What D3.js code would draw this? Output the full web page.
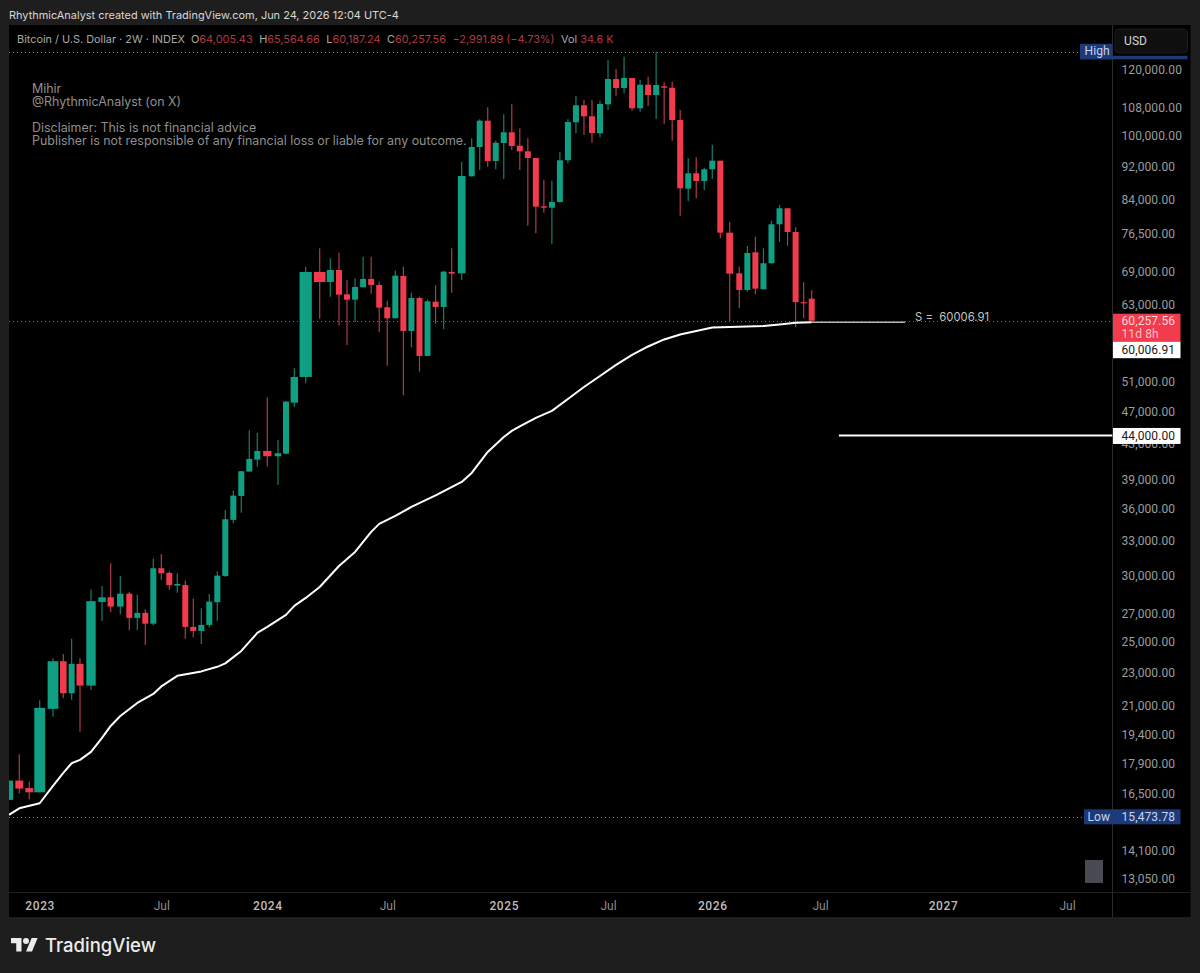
<!DOCTYPE html>
<html><head><meta charset="utf-8"><title>Bitcoin / U.S. Dollar 2W</title>
<script src="https://cdn.jsdelivr.net/npm/d3@7"></script>
<style>
html,body{margin:0;padding:0;background:#1e1e1e}
svg{display:block}
text{font-family:Inter,Roboto,sans-serif}
.axis text{font-family:Roboto,sans-serif}
</style></head><body><div id="chart"></div>
<script>
// Two-week BTC/USD candles, oldest first
const barOpen = [16210,17090,16740,16550,20800,23700,21710,23530,22170,27880,
28240,27530,28520,26690,27060,26270,30580,30190,29160,29210,
26040,25750,26180,27860,29940,34910,37280,39850,41180,42170,
41560,41860,48140,51650,68870,67000,69240,64780,63830,66040,
67560,66460,62520,60660,68110,58590,64130,54710,63480,62570,
68870,68620,89510,96990,104240,93340,98060,100980,97340,95850,
94110,82450,82130,83420,93520,103780,108730,105500,100700,109030,
116850,114010,117170,107840,115040,111840,114540,114100,104440,86520,
90250,88360,91240,93420,76690,68620,65550,72680,65680,70530,
78480,82000,76840,63400,64005.43];
const barHigh = [17090,18370,17040,21300,23900,24180,25200,23900,28840,29130,
31000,29940,28680,28450,27330,31400,31800,30330,30160,29560,
28140,27410,28500,30300,35880,37830,39890,44630,44300,48860,
43460,48360,52900,69870,73480,71500,72600,67370,67690,71810,
71810,67060,63660,69110,69870,65070,64360,63830,66400,69110,
73480,93160,99330,104640,108140,98680,106080,109120,102090,99330,
94110,88610,88440,95670,104640,111540,110320,110320,110110,123100,
120100,124210,117170,116530,117590,125890,115800,115990,107340,94030,
94290,91640,97600,93420,79040,69870,73950,75860,73480,79260,
82740,82000,77840,67000,65564.66];
const barLow = [16210,16510,16240,16550,20360,21420,21320,19530,21910,26470,
27130,26960,25800,25800,24780,26160,29620,28820,28600,25200,
25290,24850,26020,26470,29860,34590,35610,39850,40400,40400,
38420,41790,47610,50770,60590,64360,59510,56380,60100,66040,
64890,58380,53270,60660,49160,56030,52400,54710,59770,58860,
65070,67370,89410,91070,91890,91240,88850,96200,91070,78180,
76570,81010,74360,83260,92750,100700,100230,98140,99600,107340,
111630,112360,107130,106840,108520,104720,103300,98680,80350,83650,
84270,86210,88920,75530,60210,62450,65250,64780,65680,70450,
74830,74010,59180,60660,60187.24];
const barClose = [17090,16720,16550,20860,23700,21710,23530,22170,27940,28240,
27530,28520,26690,27060,26270,30580,30160,29190,29290,26040,
25750,26180,27910,29970,34970,37310,39890,41260,42170,41560,
41910,48270,51650,68870,67000,69240,64710,63830,66090,67560,
66460,62450,60660,68170,58590,64130,54710,63550,62570,68920,
68550,89580,96990,104240,93340,98140,100980,97260,95850,94110,
82360,82130,83420,93520,103870,108730,105500,100780,109120,116850,
114010,117170,107840,115040,111840,114950,114100,104440,86610,90250,
88360,91240,93420,76690,68550,65550,72540,65790,70530,78480,
82000,76840,63400,63249.45,60257.56];

// Long moving average, sampled at these bars
const maBars = [0,1,3,4,5,6,7,8,9,10,11,13,15,16,18,21,23,24,26,27,28,29,31,32,33,34,36,38,40,41,43,45,48,51,52,54,56,57,58,60,62,64,66,68,70,72,74,76,78,80,82,84,88,90,92,94];
const maValues = [15560,15840,16060,16840,17450,17920,18090,18490,19210,19850,20400,21140,
21670,22120,22770,23050,23340,23560,24380,24990,25610,26040,26910,27580,28190,29050,30770,31980,
33780,34530,35290,36170,37330,38740,39700,42060,43820,44550,45100,46160,47060,48630,50250,51790,
53380,54860,56150,57240,58030,58590,59150,59230,59390,59640,59930,60006.91];

const priceTicks = [120000,108000,100000,92000,84000,76500,69000,63000,51000,47000,43000,39000,36000,33000,30000,27000,25000,23000,21000,19400,17900,16500,14100,13050];
const timeTickBars = [3,16,29,42,56,69,82,95,108,121];
const timeTickLabels = ["2023","Jul","2024","Jul","2025","Jul","2026","Jul","2027","Jul"];
const yearLabels = new Set(["2023","2024","2025","2026","2027"]);

const seriesHigh = 125890, seriesLow = 15473.78;
const lastClose = 60257.56, supportLevel = 60006.91, targetLevel = 44000;

const W = 1200, H = 973;
const plot = {left: 9, right: 1112.5, top: 25, bottom: 892, outerRight: 1190.5, outerBottom: 917};
const UP = "#0f9f83", DOWN = "#f23b4c", UP_WICK = "#12806c", DOWN_WICK = "#b23a48";
const BLUE = "#1c3a78";

const svg = d3.select("#chart").append("svg").attr("width", W).attr("height", H);
svg.append("rect").attr("width", W).attr("height", H).attr("fill", "#1e1e1e");
svg.append("rect").attr("x", plot.left).attr("y", plot.top)
  .attr("width", plot.outerRight - plot.left).attr("height", plot.outerBottom - plot.top).attr("fill", "#000");

// Log price scale; time scale runs on bar numbers with a non-uniform pitch
const y = d3.scaleLog().domain([120000, 13050]).range([69.3, 879]);
const x = d3.scaleLinear()
  .domain([0,1,2,3,4,5,7,8,9,10,11,12,13,28,29,30,31,32,33,34,35,36,37,50,51,52,53,83,84,85,94,95,108,121])
  .range([9,19.3,29.3,39.7,53,63.3,80,91,102,110.7,120.3,129.3,137.3,257.3,267.3,278,286,294.3,305.7,319.7,330.3,339,347,451.7,461.7,471.7,479.7,720.3,729.7,739.3,811.7,820,943,1067]);
const snap = v => Math.round(v) + .5;

const bodyWidth = i => {
  const pitch = (x(i + 1) - x(i - 1)) / 2;
  return 6 + Math.max(0, pitch - 9) * 1.7;
};

// Panel separators
svg.append("line").attr("x1", plot.right).attr("x2", plot.right).attr("y1", plot.top).attr("y2", plot.outerBottom).attr("stroke", "#2a2a2a");
svg.append("line").attr("x1", plot.left).attr("x2", plot.outerRight).attr("y1", plot.bottom + .5).attr("y2", plot.bottom + .5).attr("stroke", "#222");

svg.append("clipPath").attr("id", "plotClip").append("rect")
  .attr("x", plot.left).attr("y", plot.top).attr("width", plot.right - plot.left).attr("height", plot.bottom - plot.top);
const chart = svg.append("g").attr("clip-path", "url(#plotClip)");

// Dotted reference lines
chart.append("line").attr("x1", plot.left).attr("x2", 1080).attr("y1", snap(y(seriesHigh))).attr("y2", snap(y(seriesHigh)))
  .attr("stroke", "#7d7d7d").attr("stroke-dasharray", "1 3");
chart.append("line").attr("x1", plot.left).attr("x2", 1084).attr("y1", snap(y(seriesLow))).attr("y2", snap(y(seriesLow)))
  .attr("stroke", "#7d7d7d").attr("stroke-dasharray", "1 3");
chart.append("line").attr("x1", plot.left).attr("x2", plot.right).attr("y1", snap(y(lastClose))).attr("y2", snap(y(lastClose)))
  .attr("stroke", "#c0434f").attr("stroke-dasharray", "1 3");

// Candles
const bars = d3.range(barOpen.length);
const isUp = i => barClose[i] >= barOpen[i];
chart.append("g").selectAll("line").data(bars).join("line")
  .attr("x1", i => x(i)).attr("x2", i => x(i))
  .attr("y1", i => y(barHigh[i])).attr("y2", i => y(barLow[i]))
  .attr("stroke", i => isUp(i) ? UP_WICK : DOWN_WICK).attr("stroke-width", 1.2);
chart.append("g").selectAll("rect").data(bars).join("rect")
  .attr("x", i => x(i) - bodyWidth(i) / 2).attr("width", i => bodyWidth(i))
  .attr("y", i => y(Math.max(barOpen[i], barClose[i])))
  .attr("height", i => Math.max(1.2, Math.abs(y(barOpen[i]) - y(barClose[i]))))
  .attr("fill", i => isUp(i) ? UP : DOWN);

// Moving average
chart.append("path")
  .attr("d", d3.line().x(i => x(maBars[i])).y(i => y(maValues[i])).curve(d3.curveLinear)(d3.range(maBars.length)))
  .attr("fill", "none").attr("stroke", "#fff").attr("stroke-width", 2).attr("stroke-linejoin", "round");

// Support extension and its caption
chart.append("line").attr("x1", x(94)).attr("x2", x(104)).attr("y1", y(supportLevel)).attr("y2", y(supportLevel))
  .attr("stroke", "#b5b5b5").attr("stroke-width", 1.4);
svg.append("text").attr("x", 915).attr("y", y(supportLevel) - 1.5).attr("fill", "#c4c4c4")
  .attr("font-size", 11.3).style("white-space", "pre").text("S =  60006.91");

// Downside target level
chart.append("line").attr("x1", x(97)).attr("x2", plot.right).attr("y1", y(targetLevel)).attr("y2", y(targetLevel))
  .attr("stroke", "#fff").attr("stroke-width", 2);

// Axes
const priceAxis = d3.axisRight(y).tickValues(priceTicks).tickFormat(d3.format(",.2f")).tickSize(0).tickPadding(9);
const pa = svg.append("g").attr("class", "axis").attr("transform", `translate(${plot.right},0)`).call(priceAxis);
pa.select(".domain").remove();
pa.selectAll("text").attr("fill", "#9d9d9d").attr("font-size", 12).attr("letter-spacing", ".1px");

const timeAxis = d3.axisBottom(x).tickValues(timeTickBars)
  .tickFormat((d, i) => timeTickLabels[i]).tickSize(0).tickPadding(9);
const ta = svg.append("g").attr("class", "axis").attr("transform", `translate(0,${plot.bottom})`).call(timeAxis);
ta.select(".domain").remove();
ta.selectAll("text")
  .attr("font-size", 12)
  .attr("fill", (d, i) => yearLabels.has(timeTickLabels[i]) ? "#bdbdbd" : "#8c8c8c")
  .attr("font-weight", (d, i) => yearLabels.has(timeTickLabels[i]) ? 500 : 400)
  .attr("letter-spacing", (d, i) => yearLabels.has(timeTickLabels[i]) ? ".6px" : "0");

// Price axis tags
function tag(x0, x1, y0, y1, fill) {
  svg.append("rect").attr("x", x0).attr("y", y0).attr("width", x1 - x0).attr("height", y1 - y0).attr("fill", fill);
}
function label(tx, ty, str, fill, size = 12) {
  return svg.append("text").attr("x", tx).attr("y", ty).attr("fill", fill).attr("font-size", size)
    .attr("letter-spacing", ".1px").style("font-family", "Roboto,sans-serif").text(str);
}
const fmt = d3.format(",.2f");

tag(plot.right + .5, 1180.5, y(lastClose) - 7, y(lastClose) + 21, "#f23b4c");
label(1121.5, y(lastClose) + 4, fmt(lastClose), "#ffd9dc");
label(1121.5, y(lastClose) + 17, "11d 8h", "#ffc4c9");
tag(plot.right + .5, 1180.5, y(lastClose) + 21, y(lastClose) + 37.5, "#fff");
label(1121.5, y(lastClose) + 33.5, fmt(supportLevel), "#1a1a1a");
tag(plot.right + .5, 1180.5, y(targetLevel) - 7.5, y(targetLevel) + 8.5, "#fff");
label(1121.5, y(targetLevel) + 4.5, fmt(targetLevel), "#1a1a1a");

// High and low tags
tag(1080, 1187.5, y(seriesHigh) + 4, y(seriesHigh) + 7.5, BLUE);
tag(1080, plot.right, y(seriesHigh) - 8, y(seriesHigh) + 7.5, BLUE);
label(1084.5, y(seriesHigh) + 3, "High", "#c9d4ee", 12);
tag(1084, 1180.5, y(seriesLow) - 7.5, y(seriesLow) + 7.5, BLUE);
label(1087.5, y(seriesLow) + 4.5, "Low", "#c9d4ee", 12);
label(1121.5, y(seriesLow) + 4, fmt(seriesLow), "#c9d4ee", 12);

// Currency button
svg.append("rect").attr("x", 1115).attr("y", 29).attr("width", 72.5).attr("height", 24).attr("rx", 4)
  .attr("fill", "#0f0f0f").attr("stroke", "#1c1c1c");
label(1124, 44.5, "USD", "#d4d4d4", 12);

// Auto-scale marker in the corner of the pane
svg.append("rect").attr("x", 1085).attr("y", 860).attr("width", 18).attr("height", 23).attr("fill", "#484b52");

// Page header
svg.append("text").attr("x", 9).attr("y", 18.5).attr("fill", "#d8d8d8").attr("font-size", 10.95)
  .text("RhythmicAnalyst created with TradingView.com, Jun 24, 2026 12:04 UTC-4");

// OHLC legend
const legendGrey = "#a9a9a9", legendRed = "#b13a44";
const legend = svg.append("text").attr("x", 17).attr("y", 43).attr("font-size", 10.9).attr("fill", legendGrey);
legend.append("tspan").text("Bitcoin / U.S. Dollar · 2W · INDEX");
[["O", barOpen], ["H", barHigh], ["L", barLow], ["C", barClose]].forEach(([k, s]) => {
  legend.append("tspan").attr("dx", 6.5).text(k);
  legend.append("tspan").attr("fill", legendRed).text(fmt(s[s.length - 1]));
});
legend.append("tspan").attr("dx", 6.5).attr("fill", legendRed).text("−2,991.89 (−4.73%)");
legend.append("tspan").attr("dx", 6.5).text("Vol");
legend.append("tspan").attr("dx", 3).attr("fill", legendRed).text("34.6 K");

// Author note
const note = [["Mihir", 93], ["@RhythmicAnalyst (on X)", 106], ["Disclaimer: This is not financial advice", 132],
  ["Publisher is not responsible of any financial loss or liable for any outcome.", 145]];
svg.append("g").selectAll("text").data(note).join("text")
  .attr("x", 32).attr("y", d => d[1]).attr("fill", "#8f8f8f").attr("font-size", 12.43).text(d => d[0]);

// Wordmark
const logo = svg.append("g").attr("transform", "translate(11,935) scale(.75)").attr("fill", "#ececec");
logo.append("path").attr("d", "M14 22H7V11H0V4h14v18zM28 22h-8l7.5-18h8L28 22z");
logo.append("circle").attr("cx", 20).attr("cy", 8).attr("r", 4);
svg.append("text").attr("x", 45).attr("y", 952).attr("fill", "#ececec").attr("font-size", 18.5)
  .attr("font-weight", 500).text("TradingView");
</script></body></html>
